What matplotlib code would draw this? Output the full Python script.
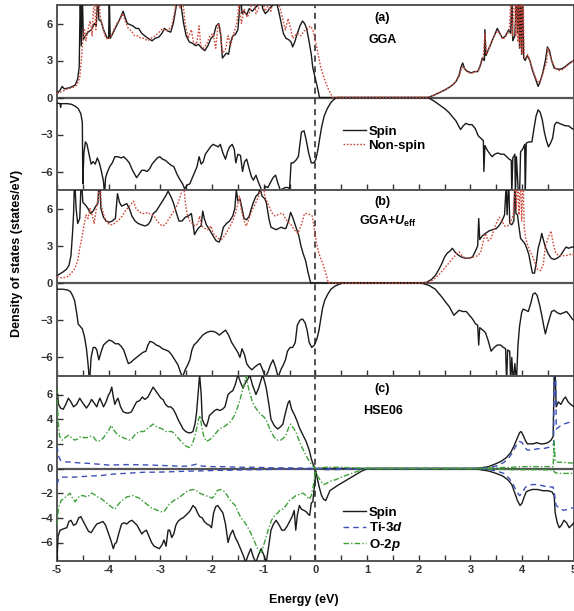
import matplotlib
matplotlib.use("Agg")
import matplotlib.pyplot as plt
from matplotlib.ticker import MultipleLocator

plt.rcParams["font.family"] = ["Liberation Sans", "DejaVu Sans"]
plt.rcParams["font.weight"] = "bold"
plt.rcParams["mathtext.fontset"] = "custom"
plt.rcParams["mathtext.rm"] = "Liberation Sans:bold"
plt.rcParams["mathtext.it"] = "Liberation Sans:italic:bold"
plt.rcParams["mathtext.bf"] = "Liberation Sans:bold"

# ---------------- data: (energy in eV, DOS in states/eV) ----------------
# (a) GGA
gga_spin_up = [
    (-5.00, 0.35), (-4.94, 0.6), (-4.90, 0.9), (-4.86, 0.7), (-4.75, 0.8), (-4.65, 1.0),
    (-4.60, 1.5), (-4.57, 2.5), (-4.55, 8.5), (-4.53, 4.2), (-4.51, 8.5), (-4.49, 4.7),
    (-4.45, 5.0), (-4.40, 5.3), (-4.33, 5.5), (-4.28, 6.0), (-4.24, 5.8), (-4.21, 8.5),
    (-4.19, 6.3), (-4.15, 6.2), (-4.10, 5.5), (-4.04, 4.9), (-4.00, 4.8), (-3.99, 8.5),
    (-3.97, 4.8), (-3.92, 5.2), (-3.85, 5.8), (-3.78, 6.4), (-3.72, 7.0), (-3.69, 6.6),
    (-3.64, 6.0), (-3.58, 5.9), (-3.53, 5.8), (-3.47, 5.6), (-3.42, 5.6), (-3.36, 5.2),
    (-3.30, 5.0), (-3.24, 4.8), (-3.16, 4.6), (-3.10, 4.8), (-3.03, 4.9), (-2.97, 5.2),
    (-2.92, 5.6), (-2.86, 5.4), (-2.80, 5.3), (-2.75, 6.0), (-2.70, 7.2), (-2.66, 8.5),
    (-2.60, 7.5), (-2.55, 6.0), (-2.50, 5.0), (-2.44, 4.5), (-2.38, 4.4), (-2.32, 4.2),
    (-2.26, 4.3), (-2.20, 4.0), (-2.14, 3.8), (-2.08, 4.2), (-2.02, 4.8), (-1.97, 5.0),
    (-1.92, 5.8), (-1.87, 6.0), (-1.83, 5.0), (-1.80, 3.2), (-1.76, 3.4), (-1.72, 3.6),
    (-1.68, 3.5), (-1.64, 4.5), (-1.60, 5.0), (-1.55, 5.1), (-1.50, 5.5), (-1.47, 7.0),
    (-1.45, 8.5), (-1.42, 6.8), (-1.38, 7.0), (-1.33, 6.7), (-1.28, 7.2), (-1.22, 7.0),
    (-1.16, 7.3), (-1.10, 7.5), (-1.06, 8.5), (-1.02, 7.2), (-0.97, 6.8), (-0.92, 7.0),
    (-0.87, 7.3), (-0.82, 7.5), (-0.78, 8.5), (-0.74, 7.5), (-0.70, 6.8), (-0.66, 6.0),
    (-0.62, 5.2), (-0.57, 4.8), (-0.52, 4.7), (-0.47, 4.5), (-0.44, 4.1), (-0.40, 4.5),
    (-0.35, 5.2), (-0.30, 5.8), (-0.25, 6.2), (-0.21, 6.0), (-0.17, 5.6), (-0.12, 4.5),
    (-0.08, 3.5), (-0.05, 2.4), (0.00, 1.5), (0.04, 0.8), (0.08, 0.0),
    (2.18, 0.0), (2.30, 0.2), (2.40, 0.4), (2.50, 0.6), (2.58, 0.8), (2.65, 1.0),
    (2.72, 1.3), (2.78, 1.8), (2.82, 2.5), (2.85, 2.8), (2.89, 2.3), (2.95, 2.1),
    (3.02, 2.0), (3.08, 2.1), (3.14, 2.1), (3.19, 2.6), (3.23, 3.2), (3.27, 3.0),
    (3.28, 5.5), (3.30, 3.4), (3.35, 3.9), (3.41, 4.5), (3.46, 5.0), (3.52, 5.6),
    (3.57, 5.2), (3.62, 4.8), (3.68, 5.0), (3.74, 5.5), (3.78, 5.2), (3.80, 8.5),
    (3.82, 4.6), (3.86, 5.0), (3.89, 8.5), (3.91, 5.2), (3.93, 8.5), (3.95, 4.0),
    (3.97, 8.5), (3.99, 3.5), (4.01, 8.5), (4.03, 3.2), (4.06, 3.0), (4.10, 3.4),
    (4.15, 3.0), (4.20, 2.2), (4.26, 1.5), (4.31, 0.9), (4.35, 1.3), (4.40, 2.0),
    (4.45, 3.0), (4.49, 4.1), (4.53, 3.8), (4.57, 3.0), (4.62, 2.4), (4.68, 2.3),
    (4.74, 2.3), (4.80, 2.4), (4.86, 2.6), (4.92, 2.8), (5.00, 3.0),
]
gga_nonspin_up = [
    (-5.00, 0.3), (-4.90, 0.5), (-4.80, 0.7), (-4.70, 0.8), (-4.62, 1.0), (-4.56, 1.6),
    (-4.53, 3.0), (-4.50, 4.6), (-4.47, 5.6), (-4.44, 4.6), (-4.40, 5.5), (-4.36, 6.2),
    (-4.32, 5.0), (-4.28, 8.5), (-4.25, 5.5), (-4.20, 8.5), (-4.16, 6.5), (-4.12, 5.8),
    (-4.07, 5.0), (-4.02, 4.7), (-3.96, 4.9), (-3.90, 5.5), (-3.84, 6.0), (-3.78, 6.3),
    (-3.73, 6.8), (-3.68, 6.2), (-3.62, 5.6), (-3.56, 5.4), (-3.50, 5.0), (-3.44, 5.0),
    (-3.38, 4.8), (-3.32, 4.8), (-3.25, 4.6), (-3.18, 4.8), (-3.10, 5.0), (-3.02, 5.3),
    (-2.96, 5.6), (-2.90, 5.4), (-2.84, 5.5), (-2.78, 5.8), (-2.72, 7.0), (-2.68, 8.5),
    (-2.62, 7.2), (-2.57, 8.0), (-2.52, 6.0), (-2.46, 4.8), (-2.40, 5.5), (-2.36, 4.5),
    (-2.30, 4.3), (-2.25, 5.8), (-2.22, 4.2), (-2.16, 4.0), (-2.10, 4.4), (-2.04, 5.0),
    (-1.98, 5.2), (-1.93, 4.0), (-1.88, 6.0), (-1.84, 5.5), (-1.80, 3.6), (-1.74, 3.9),
    (-1.69, 5.0), (-1.64, 4.2), (-1.58, 5.2), (-1.52, 6.0), (-1.48, 7.5), (-1.43, 6.0),
    (-1.38, 7.2), (-1.32, 6.5), (-1.26, 7.0), (-1.20, 8.5), (-1.15, 6.8), (-1.10, 7.2),
    (-1.04, 8.5), (-0.98, 7.0), (-0.92, 7.4), (-0.86, 7.0), (-0.80, 8.5), (-0.75, 8.5),
    (-0.70, 7.5), (-0.64, 6.5), (-0.58, 5.5), (-0.53, 6.4), (-0.48, 5.6), (-0.44, 4.8),
    (-0.40, 5.0), (-0.34, 5.2), (-0.28, 5.0), (-0.22, 5.4), (-0.16, 5.5), (-0.10, 5.8),
    (-0.05, 5.5), (0.00, 4.6), (0.05, 3.6), (0.10, 2.5), (0.15, 1.8), (0.20, 1.2),
    (0.26, 0.6), (0.31, 0.2), (0.34, 0.0),
    (2.18, 0.0), (2.30, 0.2), (2.42, 0.45), (2.52, 0.65), (2.60, 0.85), (2.67, 1.1),
    (2.74, 1.4), (2.79, 1.8), (2.83, 2.4), (2.86, 2.5), (2.90, 2.2), (2.97, 2.0),
    (3.04, 2.0), (3.10, 2.1), (3.16, 2.2), (3.21, 2.8), (3.25, 3.3), (3.28, 5.2),
    (3.31, 3.5), (3.36, 4.0), (3.42, 4.6), (3.47, 5.1), (3.53, 5.4), (3.58, 5.1),
    (3.63, 4.7), (3.69, 5.0), (3.75, 5.4), (3.79, 8.5), (3.81, 5.0), (3.86, 8.5),
    (3.88, 5.0), (3.90, 8.5), (3.92, 4.5), (3.94, 8.5), (3.96, 4.0), (3.98, 8.5),
    (4.00, 3.5), (4.02, 8.5), (4.04, 3.2), (4.07, 3.2), (4.11, 3.5), (4.16, 2.8),
    (4.21, 2.2), (4.27, 1.5), (4.32, 1.2), (4.37, 1.5), (4.42, 2.2), (4.47, 2.8),
    (4.50, 4.0), (4.54, 3.4), (4.59, 2.8), (4.64, 2.4), (4.70, 2.2), (4.76, 2.2),
    (4.82, 2.4), (4.88, 2.6), (4.94, 2.8), (5.00, 3.0),
]
gga_spin_dn = [
    (-5.00, -0.45), (-4.94, -0.5), (-4.93, -0.8), (-4.92, -0.5), (-4.80, -0.5),
    (-4.72, -0.55), (-4.65, -0.7), (-4.59, -0.9), (-4.54, -1.3), (-4.51, -2.0),
    (-4.50, -7.0), (-4.48, -4.5), (-4.45, -3.6), (-4.42, -3.8), (-4.38, -4.6),
    (-4.34, -5.4), (-4.30, -5.2), (-4.26, -5.4), (-4.22, -4.9), (-4.18, -5.3),
    (-4.14, -6.0), (-4.10, -6.8), (-4.08, -8.0), (-4.06, -6.5), (-4.02, -6.0),
    (-3.98, -5.6), (-3.93, -5.3), (-3.88, -4.8), (-3.82, -4.8), (-3.76, -4.9),
    (-3.71, -4.8), (-3.66, -5.0), (-3.60, -5.3), (-3.55, -5.8), (-3.50, -6.2),
    (-3.46, -6.5), (-3.41, -6.2), (-3.36, -5.9), (-3.31, -5.9), (-3.26, -6.0),
    (-3.21, -5.8), (-3.16, -5.4), (-3.12, -5.2), (-3.06, -4.9), (-3.01, -4.8),
    (-2.96, -5.0), (-2.90, -5.1), (-2.85, -5.3), (-2.79, -5.5), (-2.74, -5.6),
    (-2.68, -6.2), (-2.63, -6.6), (-2.57, -7.0), (-2.53, -7.4), (-2.48, -7.1),
    (-2.43, -7.0), (-2.38, -6.5), (-2.33, -6.0), (-2.29, -5.6), (-2.25, -4.8),
    (-2.21, -5.4), (-2.17, -5.2), (-2.13, -4.6), (-2.08, -4.3), (-2.03, -4.0),
    (-1.98, -3.8), (-1.93, -3.9), (-1.88, -4.0), (-1.84, -3.8), (-1.79, -4.5),
    (-1.74, -5.0), (-1.70, -4.4), (-1.66, -4.0), (-1.61, -3.8), (-1.57, -4.2),
    (-1.54, -5.3), (-1.50, -4.6), (-1.45, -4.7), (-1.41, -6.0), (-1.37, -5.2),
    (-1.33, -5.0), (-1.28, -5.8), (-1.24, -6.4), (-1.20, -6.7), (-1.15, -6.3),
    (-1.11, -6.8), (-1.06, -7.3), (-1.02, -8.0), (-0.97, -7.2), (-0.92, -7.3),
    (-0.87, -6.9), (-0.82, -6.5), (-0.77, -6.3), (-0.73, -6.9), (-0.68, -7.5),
    (-0.63, -7.4), (-0.58, -7.3), (-0.53, -7.3), (-0.50, -7.4), (-0.47, -5.3),
    (-0.43, -5.3), (-0.38, -5.1), (-0.33, -4.8), (-0.30, -3.8), (-0.27, -2.8),
    (-0.22, -2.7), (-0.18, -3.4), (-0.13, -4.5), (-0.08, -5.3), (-0.03, -5.3),
    (0.01, -5.0), (0.05, -4.2), (0.08, -3.4), (0.12, -2.4), (0.17, -1.5),
    (0.23, -0.9), (0.30, -0.4), (0.36, -0.15), (0.42, 0.0),
    (2.18, 0.0), (2.30, -0.3), (2.40, -0.6), (2.50, -0.9), (2.58, -1.2), (2.66, -1.6),
    (2.72, -1.9), (2.77, -2.3), (2.81, -2.6), (2.86, -2.3), (2.91, -2.1), (2.97, -2.2),
    (3.03, -2.2), (3.09, -2.5), (3.15, -3.1), (3.20, -3.3), (3.25, -3.5), (3.26, -6.0),
    (3.28, -3.9), (3.33, -4.3), (3.38, -4.6), (3.42, -4.8), (3.47, -4.6), (3.53, -4.5),
    (3.59, -4.6), (3.65, -4.6), (3.70, -4.8), (3.75, -5.0), (3.79, -5.1), (3.80, -8.0),
    (3.82, -4.9), (3.86, -4.6), (3.87, -8.0), (3.89, -4.8), (3.93, -8.0), (3.95, -8.0),
    (3.97, -4.4), (4.01, -4.2), (4.05, -3.8), (4.06, -8.0), (4.08, -3.7), (4.13, -3.6),
    (4.19, -3.6), (4.23, -2.5), (4.27, -1.5), (4.31, -1.0), (4.35, -1.2), (4.39, -1.8),
    (4.43, -2.8), (4.47, -3.5), (4.51, -4.0), (4.55, -3.7), (4.59, -3.3), (4.63, -2.2),
    (4.67, -2.0), (4.72, -2.1), (4.78, -2.2), (4.84, -2.3), (4.90, -2.3), (4.96, -2.5),
    (5.00, -2.6),
]

# (b) GGA+U_eff
ggau_spin_up = [
    (-5.00, 0.6), (-4.94, 0.75), (-4.88, 0.9), (-4.82, 1.1), (-4.77, 1.4), (-4.73, 2.2),
    (-4.70, 4.0), (-4.68, 5.5), (-4.66, 8.5), (-4.63, 6.0), (-4.60, 4.8), (-4.56, 5.2),
    (-4.53, 8.5), (-4.50, 6.5), (-4.45, 6.3), (-4.40, 6.0), (-4.35, 5.6), (-4.30, 5.8),
    (-4.25, 6.2), (-4.21, 6.4), (-4.18, 8.5), (-4.15, 6.0), (-4.10, 5.3), (-4.05, 5.0),
    (-3.99, 4.9), (-3.93, 5.0), (-3.87, 5.2), (-3.83, 7.2), (-3.79, 6.5), (-3.75, 6.2),
    (-3.70, 6.3), (-3.65, 6.4), (-3.60, 6.0), (-3.55, 5.4), (-3.49, 5.0), (-3.43, 4.8),
    (-3.37, 4.7), (-3.30, 4.6), (-3.24, 4.7), (-3.19, 5.0), (-3.14, 5.6), (-3.08, 5.8),
    (-3.02, 6.2), (-2.96, 6.6), (-2.90, 7.0), (-2.85, 7.4), (-2.80, 7.0), (-2.75, 6.5),
    (-2.70, 5.8), (-2.64, 5.0), (-2.58, 5.0), (-2.52, 5.3), (-2.46, 5.4), (-2.40, 5.6),
    (-2.37, 4.8), (-2.34, 3.9), (-2.30, 4.2), (-2.25, 4.5), (-2.21, 4.6), (-2.18, 5.8),
    (-2.15, 5.2), (-2.11, 4.7), (-2.05, 4.3), (-1.98, 3.8), (-1.92, 3.4), (-1.86, 3.3),
    (-1.82, 3.8), (-1.78, 4.5), (-1.72, 4.8), (-1.66, 5.0), (-1.60, 5.4), (-1.56, 6.0),
    (-1.53, 7.5), (-1.50, 6.6), (-1.46, 6.8), (-1.42, 6.0), (-1.38, 5.2), (-1.33, 5.1),
    (-1.28, 5.4), (-1.24, 6.0), (-1.20, 6.5), (-1.15, 7.0), (-1.10, 7.2), (-1.07, 7.6),
    (-1.03, 7.0), (-0.98, 6.8), (-0.95, 6.5), (-0.90, 5.2), (-0.86, 4.5), (-0.81, 4.4),
    (-0.76, 4.3), (-0.71, 4.4), (-0.66, 4.5), (-0.61, 4.4), (-0.57, 4.4), (-0.52, 5.0),
    (-0.48, 5.7), (-0.44, 5.3), (-0.40, 4.8), (-0.36, 4.3), (-0.32, 3.8), (-0.28, 3.0),
    (-0.24, 2.4), (-0.19, 1.8), (-0.15, 1.0), (-0.11, 0.3), (-0.09, 0.0),
    (2.05, 0.0), (2.15, 0.05), (2.25, 0.3), (2.32, 0.6), (2.39, 1.1), (2.45, 1.6),
    (2.50, 2.1), (2.55, 2.4), (2.61, 2.6), (2.65, 2.8), (2.70, 2.5), (2.75, 2.3),
    (2.82, 2.1), (2.90, 2.0), (2.97, 2.0), (3.04, 2.1), (3.10, 2.6), (3.14, 3.0),
    (3.16, 5.2), (3.18, 3.5), (3.23, 3.8), (3.29, 4.0), (3.36, 4.2), (3.43, 4.3),
    (3.50, 4.4), (3.55, 4.6), (3.61, 5.0), (3.66, 5.5), (3.69, 7.8), (3.71, 5.5),
    (3.74, 8.5), (3.76, 4.8), (3.80, 4.7), (3.84, 5.0), (3.86, 8.5), (3.88, 5.6),
    (3.91, 5.5), (3.94, 4.5), (3.97, 3.6), (4.01, 3.4), (4.05, 3.2), (4.09, 2.8),
    (4.13, 2.3), (4.17, 1.4), (4.20, 0.8), (4.24, 0.8), (4.28, 1.8), (4.31, 2.8),
    (4.35, 3.4), (4.38, 4.0), (4.41, 3.5), (4.45, 2.9), (4.50, 2.4), (4.56, 2.0),
    (4.62, 1.9), (4.68, 2.0), (4.74, 2.2), (4.80, 2.6), (4.85, 2.9), (4.90, 2.8),
    (4.96, 2.9), (5.00, 2.9),
]
ggau_nonspin_up = [
    (-5.00, 0.5), (-4.90, 0.4), (-4.80, 0.5), (-4.72, 0.8), (-4.65, 1.2), (-4.60, 1.8),
    (-4.56, 2.8), (-4.52, 3.6), (-4.48, 4.6), (-4.44, 5.5), (-4.40, 5.2), (-4.36, 6.0),
    (-4.32, 5.5), (-4.28, 4.8), (-4.24, 6.0), (-4.20, 7.0), (-4.17, 8.5), (-4.14, 6.2),
    (-4.09, 5.4), (-4.04, 4.9), (-3.98, 4.7), (-3.92, 4.7), (-3.86, 4.9), (-3.80, 5.1),
    (-3.74, 5.4), (-3.68, 5.8), (-3.62, 6.1), (-3.56, 6.4), (-3.52, 6.6), (-3.47, 6.0),
    (-3.42, 5.8), (-3.36, 5.6), (-3.30, 5.6), (-3.24, 5.7), (-3.18, 5.5), (-3.12, 5.4),
    (-3.06, 5.0), (-3.00, 4.7), (-2.95, 4.6), (-2.89, 4.8), (-2.83, 5.2), (-2.77, 5.6),
    (-2.71, 6.0), (-2.65, 6.5), (-2.60, 7.2), (-2.56, 8.5), (-2.52, 6.6), (-2.48, 5.5),
    (-2.43, 5.0), (-2.38, 4.8), (-2.33, 4.6), (-2.27, 4.8), (-2.24, 5.4), (-2.20, 4.6),
    (-2.14, 4.4), (-2.08, 4.3), (-2.02, 4.6), (-1.98, 4.0), (-1.93, 3.8), (-1.88, 3.6),
    (-1.82, 3.5), (-1.76, 3.8), (-1.70, 4.2), (-1.65, 4.6), (-1.60, 5.0), (-1.55, 5.6),
    (-1.50, 6.4), (-1.47, 7.0), (-1.43, 5.8), (-1.38, 5.0), (-1.34, 4.6), (-1.30, 5.0),
    (-1.26, 5.5), (-1.21, 6.0), (-1.16, 6.4), (-1.10, 7.0), (-1.05, 7.5), (-1.02, 8.5),
    (-0.98, 7.0), (-0.93, 6.5), (-0.88, 6.0), (-0.83, 5.6), (-0.78, 5.4), (-0.73, 5.5),
    (-0.68, 5.6), (-0.63, 5.6), (-0.58, 5.2), (-0.53, 4.9), (-0.49, 4.8), (-0.44, 4.5),
    (-0.39, 4.2), (-0.34, 4.0), (-0.29, 4.5), (-0.25, 5.0), (-0.21, 5.6), (-0.15, 5.6),
    (-0.10, 5.5), (-0.06, 5.4), (-0.02, 4.3), (0.02, 3.2), (0.06, 2.5), (0.10, 2.0),
    (0.15, 1.5), (0.20, 0.8), (0.23, 0.3), (0.25, 0.0),
    (2.12, 0.0), (2.22, 0.1), (2.32, 0.4), (2.42, 0.8), (2.50, 1.2), (2.58, 1.6),
    (2.66, 2.0), (2.72, 2.3), (2.78, 2.5), (2.84, 2.2), (2.90, 2.0), (2.98, 2.0),
    (3.06, 2.1), (3.14, 2.2), (3.20, 2.5), (3.25, 3.4), (3.29, 4.0), (3.34, 3.4),
    (3.40, 3.6), (3.46, 4.4), (3.52, 5.0), (3.56, 5.3), (3.61, 5.0), (3.66, 4.6),
    (3.72, 4.6), (3.78, 4.9), (3.83, 5.5), (3.87, 8.5), (3.89, 6.0), (3.92, 8.5),
    (3.94, 5.5), (3.97, 8.5), (3.99, 5.0), (4.02, 8.5), (4.04, 4.5), (4.07, 3.6),
    (4.11, 3.0), (4.15, 2.6), (4.20, 2.2), (4.25, 1.6), (4.30, 1.1), (4.36, 1.0),
    (4.41, 1.5), (4.45, 3.0), (4.50, 3.6), (4.56, 4.2), (4.60, 3.2), (4.65, 2.4),
    (4.71, 2.2), (4.78, 2.2), (4.85, 2.2), (4.92, 2.3), (5.00, 2.3),
]
ggau_spin_dn = [
    (-5.00, -0.5), (-4.90, -0.5), (-4.80, -0.55), (-4.74, -0.7), (-4.70, -1.0),
    (-4.66, -1.4), (-4.62, -2.4), (-4.59, -3.3), (-4.55, -3.5), (-4.51, -3.7),
    (-4.47, -4.3), (-4.43, -5.3), (-4.40, -6.5), (-4.37, -8.0), (-4.34, -6.0),
    (-4.30, -5.2), (-4.26, -5.2), (-4.23, -5.4), (-4.19, -6.2), (-4.15, -5.6),
    (-4.10, -5.0), (-4.05, -4.8), (-3.99, -4.6), (-3.93, -4.7), (-3.87, -4.9),
    (-3.81, -4.9), (-3.76, -5.1), (-3.71, -5.4), (-3.66, -6.0), (-3.62, -6.5),
    (-3.57, -6.4), (-3.52, -6.2), (-3.46, -6.0), (-3.40, -5.8), (-3.34, -5.6),
    (-3.28, -5.5), (-3.24, -5.0), (-3.20, -4.7), (-3.14, -4.8), (-3.08, -5.0),
    (-3.02, -5.1), (-2.96, -5.3), (-2.90, -5.4), (-2.84, -5.5), (-2.78, -5.8),
    (-2.72, -6.2), (-2.66, -6.6), (-2.61, -7.2), (-2.57, -7.6), (-2.52, -7.0),
    (-2.47, -6.6), (-2.43, -6.2), (-2.39, -5.4), (-2.35, -5.0), (-2.30, -4.8),
    (-2.24, -4.5), (-2.18, -4.2), (-2.11, -4.0), (-2.04, -3.9), (-1.98, -3.9),
    (-1.92, -4.0), (-1.86, -4.2), (-1.80, -4.0), (-1.74, -3.8), (-1.68, -4.2),
    (-1.62, -4.8), (-1.56, -5.2), (-1.50, -5.6), (-1.46, -6.0), (-1.42, -5.3),
    (-1.37, -5.8), (-1.33, -6.5), (-1.28, -6.8), (-1.23, -7.0), (-1.18, -6.8),
    (-1.12, -6.6), (-1.07, -6.5), (-1.02, -7.0), (-0.97, -7.6), (-0.92, -7.2),
    (-0.87, -6.6), (-0.82, -6.2), (-0.77, -6.8), (-0.72, -7.6), (-0.67, -7.0),
    (-0.62, -6.6), (-0.58, -6.2), (-0.54, -5.5), (-0.49, -5.2), (-0.44, -5.2),
    (-0.39, -4.8), (-0.35, -3.4), (-0.30, -3.0), (-0.25, -2.9), (-0.20, -3.2),
    (-0.16, -3.8), (-0.12, -4.8), (-0.07, -5.2), (-0.02, -5.0), (0.03, -4.5),
    (0.07, -3.8), (0.10, -3.0), (0.14, -2.0), (0.18, -1.4), (0.24, -0.9),
    (0.30, -0.5), (0.38, -0.25), (0.46, -0.1), (0.53, 0.0),
    (2.05, 0.0), (2.20, -0.2), (2.32, -0.5), (2.40, -0.9), (2.46, -1.2), (2.53, -1.6),
    (2.59, -1.9), (2.64, -2.3), (2.68, -2.6), (2.73, -2.4), (2.78, -2.2), (2.85, -2.3),
    (2.92, -2.3), (2.98, -2.6), (3.04, -2.9), (3.10, -3.3), (3.14, -3.4), (3.16, -5.0),
    (3.18, -3.6), (3.24, -3.8), (3.29, -4.0), (3.34, -4.6), (3.40, -5.5), (3.46, -5.2),
    (3.52, -5.0), (3.58, -5.0), (3.64, -5.2), (3.68, -5.3), (3.70, -8.0), (3.72, -5.4),
    (3.76, -5.5), (3.78, -8.0), (3.80, -6.0), (3.83, -8.0), (3.86, -6.5), (3.89, -8.0),
    (3.92, -5.0), (3.95, -3.5), (3.99, -2.4), (4.02, -2.1), (4.07, -2.2), (4.12, -2.3),
    (4.17, -1.6), (4.21, -0.9), (4.25, -0.8), (4.29, -1.0), (4.34, -1.8), (4.38, -2.6),
    (4.42, -3.5), (4.45, -4.1), (4.48, -3.6), (4.52, -3.0), (4.57, -2.3), (4.62, -2.2),
    (4.68, -2.4), (4.74, -2.5), (4.80, -2.4), (4.86, -2.3), (4.92, -2.6), (4.97, -2.9),
    (5.00, -3.0),
]

# (c) HSE06: total spin DOS and projected Ti-3d / O-2p
hse_spin_up = [
    (-5.00, 6.5), (-4.97, 5.2), (-4.93, 4.9), (-4.88, 4.8), (-4.83, 5.2), (-4.78, 5.7),
    (-4.73, 5.4), (-4.68, 5.0), (-4.62, 5.2), (-4.56, 5.7), (-4.50, 5.3), (-4.43, 4.9),
    (-4.38, 5.2), (-4.33, 5.6), (-4.28, 5.3), (-4.23, 5.0), (-4.20, 5.4), (-4.17, 5.7),
    (-4.13, 5.3), (-4.10, 5.0), (-4.05, 5.4), (-4.01, 5.9), (-3.97, 6.2), (-3.94, 6.6),
    (-3.91, 5.8), (-3.88, 5.2), (-3.85, 5.5), (-3.82, 5.7), (-3.77, 5.0), (-3.72, 4.6),
    (-3.66, 4.5), (-3.61, 4.5), (-3.56, 4.6), (-3.51, 5.0), (-3.46, 5.4), (-3.40, 5.5),
    (-3.35, 5.8), (-3.30, 5.6), (-3.24, 5.8), (-3.19, 6.2), (-3.14, 6.6), (-3.09, 6.3),
    (-3.04, 6.0), (-2.99, 5.7), (-2.95, 5.6), (-2.90, 5.2), (-2.85, 5.0), (-2.80, 5.0),
    (-2.75, 4.8), (-2.70, 4.4), (-2.66, 4.0), (-2.61, 3.6), (-2.56, 3.2), (-2.51, 3.0),
    (-2.46, 2.9), (-2.41, 2.9), (-2.37, 3.0), (-2.33, 3.6), (-2.30, 4.5), (-2.27, 6.0),
    (-2.24, 7.6), (-2.21, 6.0), (-2.19, 4.0), (-2.15, 3.6), (-2.11, 3.4), (-2.08, 3.8),
    (-2.05, 4.3), (-2.00, 4.5), (-1.95, 4.7), (-1.90, 4.8), (-1.85, 4.7), (-1.80, 4.8),
    (-1.75, 5.0), (-1.69, 6.0), (-1.64, 6.2), (-1.60, 6.3), (-1.55, 6.8), (-1.50, 7.6),
    (-1.45, 7.0), (-1.40, 6.5), (-1.35, 7.0), (-1.30, 7.3), (-1.27, 7.6), (-1.22, 6.8),
    (-1.15, 6.0), (-1.10, 6.5), (-1.05, 7.2), (-1.02, 7.6), (-0.98, 7.0), (-0.95, 6.5),
    (-0.90, 5.2), (-0.86, 4.0), (-0.80, 3.5), (-0.73, 3.2), (-0.67, 3.4), (-0.63, 3.6),
    (-0.58, 4.5), (-0.53, 5.3), (-0.50, 5.5), (-0.46, 4.8), (-0.40, 4.3), (-0.35, 3.8),
    (-0.31, 3.3), (-0.25, 2.8), (-0.18, 2.2), (-0.12, 1.5), (-0.08, 0.8), (-0.04, 0.3),
    (0.00, 0.0),
    (3.05, 0.0), (3.20, 0.05), (3.35, 0.15), (3.50, 0.4), (3.60, 0.6), (3.70, 0.9),
    (3.78, 1.3), (3.84, 1.8), (3.90, 2.4), (3.95, 2.9), (3.98, 3.0), (4.02, 2.7),
    (4.06, 2.3), (4.10, 2.0), (4.16, 2.0), (4.22, 2.0), (4.28, 2.1), (4.35, 2.0),
    (4.42, 2.0), (4.50, 2.1), (4.56, 2.3), (4.60, 2.6), (4.62, 7.6), (4.64, 7.6),
    (4.66, 5.0), (4.70, 5.4), (4.75, 5.2), (4.80, 5.6), (4.84, 5.8), (4.89, 5.4),
    (4.94, 5.2), (5.00, 5.0),
]
hse_spin_dn = [
    (-5.00, -7.6), (-4.98, -5.5), (-4.94, -5.0), (-4.88, -4.9), (-4.81, -4.8),
    (-4.77, -4.3), (-4.73, -4.2), (-4.68, -4.6), (-4.63, -4.5), (-4.58, -4.0),
    (-4.54, -3.9), (-4.49, -4.3), (-4.44, -4.7), (-4.39, -5.1), (-4.34, -5.2),
    (-4.28, -4.8), (-4.23, -4.5), (-4.17, -4.4), (-4.11, -4.3), (-4.06, -4.6),
    (-4.01, -5.2), (-3.96, -5.8), (-3.91, -6.5), (-3.88, -6.1), (-3.85, -6.0),
    (-3.80, -5.2), (-3.75, -4.5), (-3.70, -4.4), (-3.65, -4.5), (-3.60, -4.3),
    (-3.55, -4.2), (-3.50, -4.4), (-3.45, -4.6), (-3.40, -5.0), (-3.36, -5.3),
    (-3.31, -5.1), (-3.27, -5.0), (-3.22, -5.5), (-3.17, -6.0), (-3.12, -6.3),
    (-3.07, -6.4), (-3.02, -6.5), (-2.97, -6.2), (-2.93, -5.8), (-2.89, -6.3),
    (-2.85, -5.0), (-2.82, -5.0), (-2.78, -5.6), (-2.74, -5.3), (-2.70, -4.6),
    (-2.66, -4.3), (-2.61, -4.1), (-2.56, -4.0), (-2.51, -3.8), (-2.46, -3.6),
    (-2.42, -3.4), (-2.37, -3.0), (-2.32, -3.2), (-2.28, -3.6), (-2.24, -3.9),
    (-2.19, -4.0), (-2.15, -4.3), (-2.10, -4.5), (-2.05, -4.6), (-2.01, -4.8),
    (-1.97, -3.6), (-1.93, -3.1), (-1.89, -3.0), (-1.84, -3.3), (-1.79, -3.6),
    (-1.74, -4.5), (-1.69, -6.0), (-1.65, -5.4), (-1.60, -5.0), (-1.55, -5.6),
    (-1.50, -6.0), (-1.45, -6.5), (-1.40, -7.0), (-1.35, -7.6), (-1.30, -7.0),
    (-1.25, -6.5), (-1.20, -7.2), (-1.15, -7.6), (-1.10, -7.0), (-1.05, -6.5),
    (-1.00, -7.0), (-0.95, -7.6), (-0.90, -6.2), (-0.86, -5.0), (-0.81, -4.5),
    (-0.76, -4.2), (-0.70, -4.6), (-0.65, -5.0), (-0.60, -5.0), (-0.55, -4.7),
    (-0.50, -4.3), (-0.45, -3.9), (-0.41, -3.4), (-0.38, -5.0), (-0.35, -3.8),
    (-0.31, -3.0), (-0.27, -3.3), (-0.22, -3.4), (-0.18, -3.5), (-0.14, -3.7),
    (-0.11, -3.8), (-0.08, -2.8), (-0.05, -2.7), (-0.02, -1.5), (0.01, -0.2),
    (0.04, -0.9), (0.08, -1.6), (0.12, -2.2), (0.16, -2.5), (0.20, -2.6), (0.24, -2.2),
    (0.28, -1.8), (0.35, -1.6), (0.42, -1.4), (0.50, -1.2), (0.58, -1.0), (0.66, -0.8),
    (0.74, -0.6), (0.82, -0.4), (0.90, -0.2), (0.96, -0.1), (1.02, 0.0),
    (3.05, 0.0), (3.20, -0.1), (3.35, -0.2), (3.50, -0.4), (3.62, -0.6), (3.72, -0.9),
    (3.80, -1.3), (3.86, -2.0), (3.91, -2.6), (3.96, -3.0), (4.00, -2.8), (4.04, -2.3),
    (4.08, -1.9), (4.12, -1.8), (4.20, -1.7), (4.30, -1.7), (4.40, -1.8), (4.50, -1.8),
    (4.58, -1.9), (4.62, -2.2), (4.64, -3.6), (4.68, -4.4), (4.72, -4.8), (4.76, -4.6),
    (4.81, -4.2), (4.86, -4.4), (4.91, -4.8), (4.96, -4.6), (5.00, -4.4),
]
ti3d_up = [
    (-5.00, 1.8), (-4.97, 1.0), (-4.93, 0.65), (-4.85, 0.55), (-4.70, 0.5), (-4.55, 0.45),
    (-4.40, 0.42), (-4.20, 0.35), (-4.00, 0.28), (-3.80, 0.3), (-3.60, 0.32), (-3.40, 0.3),
    (-3.20, 0.28), (-3.00, 0.25), (-2.80, 0.22), (-2.60, 0.18), (-2.45, 0.2), (-2.30, 0.35),
    (-2.20, 0.2), (-2.00, 0.15), (-1.80, 0.15), (-1.60, 0.12), (-1.40, 0.1), (-1.20, 0.1),
    (-1.00, 0.08), (-0.80, 0.05), (-0.60, 0.05), (-0.40, 0.04), (-0.20, 0.03), (0.00, 0.0),
    (3.05, 0.0), (3.30, 0.05), (3.50, 0.2), (3.65, 0.5), (3.75, 0.9), (3.83, 1.4),
    (3.90, 2.0), (3.95, 2.2), (4.00, 2.1), (4.05, 1.7), (4.10, 1.5), (4.20, 1.5),
    (4.30, 1.6), (4.40, 1.6), (4.50, 1.7), (4.58, 1.8), (4.61, 2.0), (4.62, 7.6),
    (4.65, 7.6), (4.66, 3.2), (4.72, 3.4), (4.80, 3.6), (4.88, 3.7), (4.95, 3.8),
    (5.00, 3.8),
]
ti3d_dn = [
    (-5.00, -1.3), (-4.97, -0.9), (-4.92, -0.7), (-4.80, -0.7), (-4.65, -0.7),
    (-4.50, -0.65), (-4.30, -0.6), (-4.10, -0.55), (-3.90, -0.45), (-3.70, -0.4),
    (-3.50, -0.35), (-3.30, -0.3), (-3.10, -0.3), (-2.90, -0.28), (-2.70, -0.25),
    (-2.50, -0.22), (-2.30, -0.2), (-2.10, -0.18), (-1.90, -0.15), (-1.70, -0.15),
    (-1.50, -0.12), (-1.30, -0.1), (-1.10, -0.1), (-0.90, -0.08), (-0.70, -0.06),
    (-0.50, -0.05), (-0.30, -0.04), (0.00, -0.02), (0.20, -0.1), (0.50, -0.08),
    (0.80, -0.04), (1.00, 0.0),
    (3.05, 0.0), (3.30, -0.05), (3.50, -0.2), (3.65, -0.4), (3.75, -0.8), (3.84, -1.4),
    (3.90, -1.9), (3.95, -2.2), (4.00, -2.0), (4.05, -1.6), (4.10, -1.4), (4.20, -1.3),
    (4.30, -1.3), (4.40, -1.4), (4.50, -1.5), (4.60, -1.5), (4.63, -2.2), (4.66, -3.0),
    (4.72, -3.2), (4.80, -3.4), (4.88, -3.3), (4.95, -3.2), (5.00, -3.2),
]
o2p_up = [
    (-5.00, 6.5), (-4.98, 4.0), (-4.95, 2.6), (-4.90, 2.3), (-4.84, 2.5), (-4.78, 2.7),
    (-4.72, 2.5), (-4.66, 2.3), (-4.60, 2.4), (-4.54, 2.6), (-4.48, 2.5), (-4.42, 2.5),
    (-4.36, 2.6), (-4.30, 2.6), (-4.25, 2.3), (-4.20, 2.2), (-4.15, 2.3), (-4.10, 2.5),
    (-4.05, 2.8), (-4.00, 3.1), (-3.95, 3.5), (-3.90, 3.1), (-3.84, 2.8), (-3.78, 2.6),
    (-3.72, 2.5), (-3.66, 2.4), (-3.60, 2.3), (-3.55, 2.4), (-3.50, 2.7), (-3.44, 2.9),
    (-3.38, 3.0), (-3.32, 3.0), (-3.26, 3.2), (-3.20, 3.4), (-3.14, 3.6), (-3.08, 3.4),
    (-3.02, 3.3), (-2.96, 3.2), (-2.90, 3.0), (-2.84, 3.0), (-2.78, 3.0), (-2.72, 2.8),
    (-2.66, 2.5), (-2.60, 2.2), (-2.55, 2.0), (-2.50, 1.8), (-2.44, 1.7), (-2.39, 1.9),
    (-2.34, 2.5), (-2.30, 3.2), (-2.26, 4.0), (-2.23, 4.3), (-2.20, 3.4), (-2.16, 2.6),
    (-2.11, 2.2), (-2.06, 2.3), (-2.00, 2.5), (-1.94, 2.8), (-1.88, 3.1), (-1.82, 3.3),
    (-1.76, 3.4), (-1.70, 3.6), (-1.64, 3.8), (-1.58, 4.2), (-1.52, 4.8), (-1.47, 5.4),
    (-1.42, 6.2), (-1.38, 6.8), (-1.34, 7.5), (-1.30, 6.6), (-1.26, 6.0), (-1.22, 5.4),
    (-1.17, 5.0), (-1.12, 4.7), (-1.06, 4.4), (-1.00, 4.2), (-0.95, 3.9), (-0.90, 3.4),
    (-0.85, 2.9), (-0.79, 2.5), (-0.73, 2.3), (-0.67, 2.3), (-0.61, 2.5), (-0.56, 2.8),
    (-0.52, 3.3), (-0.48, 3.6), (-0.43, 3.3), (-0.38, 3.0), (-0.33, 2.4), (-0.27, 1.8),
    (-0.21, 1.3), (-0.15, 0.8), (-0.10, 0.5), (-0.05, 0.2), (0.00, 0.0), (0.20, 0.1),
    (0.50, 0.1), (1.00, 0.0),
    (3.05, 0.0), (3.40, 0.05), (3.80, 0.1), (4.00, 0.15), (4.30, 0.15), (4.60, 0.15),
    (4.62, 2.2), (4.64, 0.6), (4.70, 0.5), (4.80, 0.5), (4.90, 0.45), (5.00, 0.45),
]
o2p_dn = [
    (-5.00, -4.6), (-4.97, -3.2), (-4.92, -2.6), (-4.86, -2.4), (-4.80, -2.2),
    (-4.75, -2.0), (-4.70, -2.4), (-4.65, -2.7), (-4.60, -2.4), (-4.55, -2.2),
    (-4.49, -2.2), (-4.43, -2.3), (-4.38, -2.2), (-4.33, -2.0), (-4.28, -2.1),
    (-4.22, -2.3), (-4.16, -2.4), (-4.10, -2.6), (-4.04, -2.8), (-3.98, -3.0),
    (-3.92, -3.2), (-3.88, -3.3), (-3.83, -3.0), (-3.77, -2.7), (-3.71, -2.5),
    (-3.65, -2.3), (-3.59, -2.25), (-3.53, -2.2), (-3.47, -2.3), (-3.41, -2.4),
    (-3.35, -2.6), (-3.29, -2.8), (-3.23, -3.0), (-3.17, -3.2), (-3.11, -3.3),
    (-3.05, -3.4), (-2.99, -3.5), (-2.93, -3.5), (-2.88, -3.2), (-2.83, -2.9),
    (-2.77, -2.7), (-2.71, -2.5), (-2.65, -2.4), (-2.59, -2.2), (-2.53, -2.0),
    (-2.47, -1.8), (-2.42, -1.75), (-2.36, -1.7), (-2.30, -1.8), (-2.24, -2.0),
    (-2.18, -2.1), (-2.12, -2.2), (-2.06, -2.3), (-2.00, -2.4), (-1.95, -2.2),
    (-1.90, -1.8), (-1.84, -1.7), (-1.78, -1.8), (-1.72, -2.1), (-1.66, -2.5),
    (-1.60, -2.8), (-1.55, -3.0), (-1.50, -3.5), (-1.44, -4.0), (-1.38, -4.3),
    (-1.33, -4.6), (-1.28, -5.0), (-1.23, -5.4), (-1.18, -5.9), (-1.13, -6.4),
    (-1.08, -6.7), (-1.04, -6.8), (-1.00, -6.2), (-0.95, -5.5), (-0.90, -4.8),
    (-0.85, -4.2), (-0.80, -3.9), (-0.75, -3.7), (-0.69, -3.4), (-0.63, -3.3),
    (-0.57, -3.0), (-0.50, -2.6), (-0.44, -2.4), (-0.38, -2.2), (-0.31, -2.1),
    (-0.24, -2.0), (-0.18, -2.2), (-0.12, -2.5), (-0.08, -2.2), (-0.04, -1.4),
    (0.00, -0.2), (0.04, -0.6), (0.10, -1.0), (0.16, -1.3), (0.22, -1.2), (0.30, -1.0),
    (0.40, -0.9), (0.50, -0.7), (0.60, -0.55), (0.70, -0.4), (0.80, -0.25),
    (0.90, -0.1), (0.97, 0.0),
    (3.05, 0.0), (3.40, -0.05), (3.80, -0.1), (4.00, -0.1), (4.30, -0.1), (4.60, -0.12),
    (4.64, -0.35), (4.75, -0.4), (4.90, -0.4), (5.00, -0.4),
]

panel_tags = ["(a)", "(b)", "(c)"]
panel_methods = ["GGA", "GGA+$U_{\\mathrm{eff}}$", "HSE06"]
xticks = [-5, -4, -3, -2, -1, 0, 1, 2, 3, 4, 5]
yticks_ab = [-6, -3, 0, 3, 6]
yticks_c = [-6, -4, -2, 0, 2, 4, 6]

C_SPIN = "#1a1a1a"
C_NONSPIN = "#cc4a3c"
C_TI = "#3e4fb8"
C_O = "#3f9f3a"
SPINE = "#555555"


def xy(series):
    return [p[0] for p in series], [p[1] for p in series]


fig = plt.figure(figsize=(5.74, 6.11), dpi=100)
W, H = 574.0, 611.0
left = 57 / W
width = 516.8 / W
rows = [(5, 190), (190, 376), (376, 561)]
axes = []
for top, bot in rows:
    axes.append(fig.add_axes([left, 1 - bot / H, width, (bot - top) / H]))

for i, ax in enumerate(axes):
    ax.set_xlim(-5, 5)
    ax.set_ylim(-7.5, 7.5)
    for s in ax.spines.values():
        s.set_color(SPINE)
        s.set_linewidth(1.4)
    ax.axhline(0, color=SPINE, lw=1.6, zorder=1)
    ax.axvline(0, color="#222222", lw=1.1, ls=(0, (4, 3)), zorder=1)
    ax.xaxis.set_major_locator(MultipleLocator(1))
    ax.xaxis.set_minor_locator(MultipleLocator(0.5))
    ax.tick_params(axis="both", which="both", direction="in", colors="#333333",
                   labelsize=8, width=1.0, pad=3)
    ax.tick_params(axis="both", which="major", length=4)
    ax.tick_params(axis="x", which="minor", length=4)
    ax.set_yticks(yticks_c if i == 2 else yticks_ab)
    for lab in ax.get_yticklabels():
        lab.set_fontweight("bold")
    if i < 2:
        ax.tick_params(axis="x", labelbottom=False)
    else:
        ax.set_xticks(xticks)
        ax.set_xticklabels([str(v) for v in xticks], fontweight="bold")
    ax.text(0.629, 0.93 if i != 1 else 0.935, panel_tags[i], transform=ax.transAxes,
            ha="center", va="center", fontsize=9, fontweight="bold")
    ax.text(0.63 if i != 1 else 0.64, 0.81 if i != 1 else 0.83, panel_methods[i],
            transform=ax.transAxes, ha="center", va="center", fontsize=9, fontweight="bold")

# (a) GGA
ax = axes[0]
ax.plot(*xy(gga_spin_up), color=C_SPIN, lw=1.0, label="Spin", zorder=3)
ax.plot(*xy(gga_spin_dn), color=C_SPIN, lw=1.0, zorder=3)
ax.plot(*xy(gga_nonspin_up), color=C_NONSPIN, lw=1.0, ls=(0, (1.2, 1.2)),
        label="Non-spin", zorder=4)
ax.legend(loc="upper left", bbox_to_anchor=(0.553, 0.348), frameon=False,
          fontsize=9.5, handlelength=1.75, handletextpad=0.2, labelspacing=0.15,
          borderpad=0, borderaxespad=0)

# (b) GGA+U_eff
ax = axes[1]
ax.plot(*xy(ggau_spin_up), color=C_SPIN, lw=1.0, zorder=3)
ax.plot(*xy(ggau_spin_dn), color=C_SPIN, lw=1.0, zorder=3)
ax.plot(*xy(ggau_nonspin_up), color=C_NONSPIN, lw=1.0, ls=(0, (1.2, 1.2)), zorder=4)

# (c) HSE06
ax = axes[2]
ax.plot(*xy(hse_spin_up), color=C_SPIN, lw=1.0, label="Spin", zorder=3)
ax.plot(*xy(hse_spin_dn), color=C_SPIN, lw=1.0, zorder=3)
ax.plot(*xy(ti3d_up), color=C_TI, lw=1.0, ls=(0, (4, 3)), label="Ti-$\\mathit{3d}$", zorder=4)
ax.plot(*xy(ti3d_dn), color=C_TI, lw=1.0, ls=(0, (4, 3)), zorder=4)
ax.plot(*xy(o2p_up), color=C_O, lw=1.0, ls=(0, (4, 1.5, 1, 1.5)), label="O-$\\mathit{2p}$", zorder=4)
ax.plot(*xy(o2p_dn), color=C_O, lw=1.0, ls=(0, (4, 1.5, 1, 1.5)), zorder=4)
ax.legend(loc="upper left", bbox_to_anchor=(0.553, 0.295), frameon=False,
          fontsize=9.5, handlelength=1.75, handletextpad=0.2, labelspacing=0.2,
          borderpad=0, borderaxespad=0)

fig.text(17 / W, 1 - 253 / H, "Density of states (states/eV)", rotation=90,
         ha="center", va="center", fontsize=9, fontweight="bold")
fig.text(304 / W, 1 - 600 / H, "Energy (eV)", ha="center", va="center",
         fontsize=9, fontweight="bold")

fig.savefig("out.png", dpi=100)
